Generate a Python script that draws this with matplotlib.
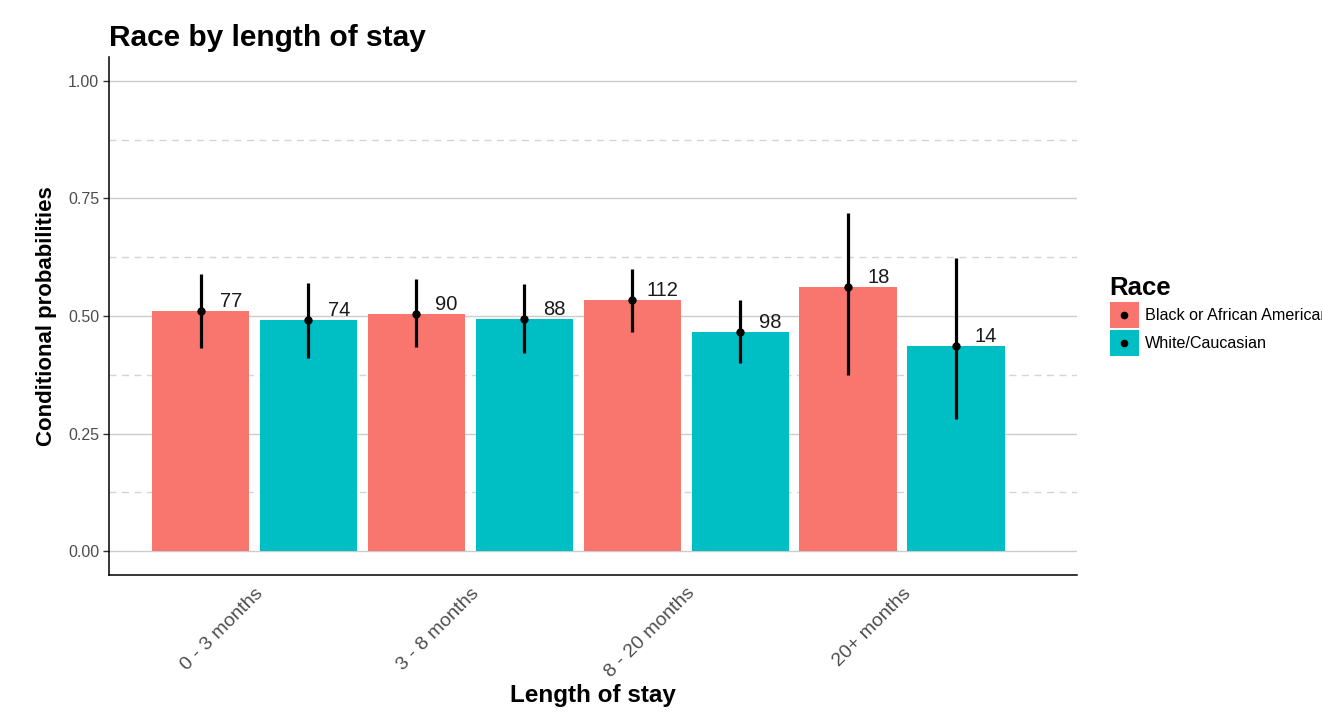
import numpy as np
import matplotlib
matplotlib.use("Agg")
import matplotlib.pyplot as plt
from matplotlib.patches import Patch, Rectangle
from matplotlib.lines import Line2D
from matplotlib.legend_handler import HandlerBase

plt.rcParams['font.family'] = ['Liberation Sans', 'DejaVu Sans']

# data
stay = ['0 - 3 months', '3 - 8 months', '8 - 20 months', '20+ months']
races = ['Black or African American', 'White/Caucasian']
colors = ['#F8766D', '#00BFC4']

prob_black = [0.511, 0.505, 0.533, 0.562]
low_black = [0.432, 0.434, 0.466, 0.374]
high_black = [0.589, 0.578, 0.599, 0.719]
n_black = [77, 90, 112, 18]

prob_white = [0.491, 0.493, 0.465, 0.436]
low_white = [0.411, 0.421, 0.399, 0.281]
high_white = [0.570, 0.567, 0.533, 0.624]
n_white = [74, 88, 98, 14]

series = [
    (prob_black, low_black, high_black, n_black),
    (prob_white, low_white, high_white, n_white),
]


class KeyHandler(HandlerBase):
    # filled square with a black dot in the middle, like the ggplot key
    def create_artists(self, legend, orig, xdescent, ydescent, width, height,
                       fontsize, trans):
        rect = Rectangle((-xdescent, -ydescent), width, height,
                         facecolor=orig.get_facecolor(), edgecolor='none',
                         transform=trans)
        dot = Line2D([-xdescent + width / 2], [-ydescent + height / 2],
                     marker='o', ms=4.5, color='black', ls='none',
                     transform=trans)
        return [rect, dot]


fig = plt.figure(figsize=(13.22, 7.12), dpi=100)
ax = fig.add_axes([0.0825, 0.1924, 0.7322, 0.7276])

x = np.arange(1, len(stay) + 1)
offsets = [-0.25, 0.25]
width = 0.45

# grid first so it sits under the bars
for v in [0, 0.25, 0.5, 0.75, 1.0]:
    ax.axhline(v, color='#cccccc', lw=1.0, zorder=0)
for v in [0.125, 0.375, 0.625, 0.875]:
    ax.axhline(v, color='#d4d4d4', lw=1.0, ls=(0, (5, 4)), zorder=0)

for i, (p, lo, hi, n) in enumerate(series):
    xs = x + offsets[i]
    p = np.array(p)
    ax.bar(xs, p, width=width, color=colors[i], zorder=2)
    yerr = [p - np.array(lo), np.array(hi) - p]
    ax.errorbar(xs, p, yerr=yerr, fmt='o', color='black', ms=5,
                elinewidth=2.3, capsize=0, zorder=3)
    for xx, yy, cnt in zip(xs, p, n):
        ax.text(xx + 0.14, yy, str(cnt), ha='center', va='bottom',
                fontsize=14.5, color='#1a1a1a', zorder=4)

ax.set_xlim(0.326, 4.811)
ax.set_ylim(-0.051, 1.051)
ax.set_xticks(x)
ax.set_xticklabels(stay, rotation=45, ha='right', rotation_mode='anchor',
                   fontsize=14, color='#4d4d4d')
ax.tick_params(axis='x', length=0, pad=7)
ax.set_yticks([0, 0.25, 0.5, 0.75, 1.0])
ax.set_yticklabels(['0.00', '0.25', '0.50', '0.75', '1.00'],
                   fontsize=11.5, color='#4d4d4d')
ax.tick_params(axis='y', length=4, width=1, color='#333333', pad=3)

for s in ['top', 'right']:
    ax.spines[s].set_visible(False)
for s in ['left', 'bottom']:
    ax.spines[s].set_color('black')
    ax.spines[s].set_linewidth(1.1)

ax.set_xlabel('Length of stay', fontsize=17.5, fontweight='bold', labelpad=2)
ax.set_ylabel('Conditional probabilities', fontsize=16, fontweight='bold',
              labelpad=8)
ax.set_title('Race by length of stay', fontsize=21.5, fontweight='bold',
             loc='left', pad=8)

handles = [Patch(facecolor=c, edgecolor='none') for c in colors]
leg = ax.legend(handles, races, title='Race', loc='center left',
                bbox_to_anchor=(1.027, 0.50), frameon=False, fontsize=11.6,
                handlelength=1.8, handleheight=2.1, handletextpad=0.4,
                labelspacing=0.15, borderaxespad=0, alignment='left',
                handler_map={Patch: KeyHandler()})
leg.get_title().set_fontsize(18.5)
leg.get_title().set_fontweight('bold')

fig.savefig('out.png', dpi=100)
